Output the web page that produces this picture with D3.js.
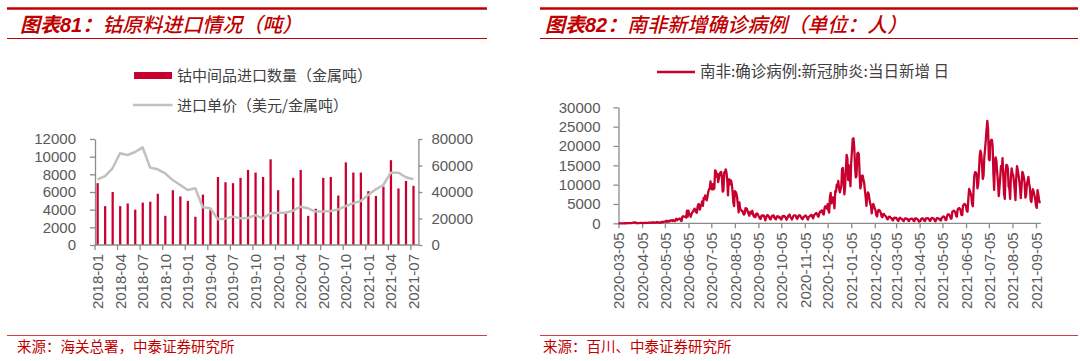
<!DOCTYPE html>
<html><head><meta charset="utf-8">
<script src="https://cdn.jsdelivr.net/npm/d3@7"></script>
<style>
body{margin:0;background:#fff;}
svg{display:block;font-family:"Liberation Sans",Arial,"Noto Sans CJK SC",sans-serif;}
</style></head><body>
<svg id="c" width="1080" height="361"></svg>
<script>
// ---------- Left chart data ----------
const importMonths = ["2018-01","2018-02","2018-03","2018-04","2018-05","2018-06","2018-07","2018-08","2018-09","2018-10","2018-11","2018-12",
 "2019-01","2019-02","2019-03","2019-04","2019-05","2019-06","2019-07","2019-08","2019-09","2019-10","2019-11","2019-12",
 "2020-01","2020-02","2020-03","2020-04","2020-05","2020-06","2020-07","2020-08","2020-09","2020-10","2020-11","2020-12",
 "2021-01","2021-02","2021-03","2021-04","2021-05","2021-06","2021-07"];
const importVolume = [7000,4400,6000,4400,4700,4000,4800,4900,5800,3300,6200,5500,
 5000,3200,5700,4000,7700,7100,7000,7600,8500,8200,7700,9700,
 6200,3600,7600,8500,3300,4100,7600,7700,5600,9350,8200,8200,
 6100,5550,6600,9600,6400,7250,6700];
const importPrice = [49600,52000,57900,69200,67900,70200,73700,58400,57100,54100,49000,45300,
 41500,42800,28500,27700,19400,19900,21400,20100,20400,22600,20100,23900,
 24400,24400,25900,28900,27700,25200,25200,25700,26900,29400,31400,33200,
 37700,42000,45300,54600,54600,51100,49600];
const leftTickLabels = ["2018-01","2018-04","2018-07","2018-10","2019-01","2019-04","2019-07","2019-10",
 "2020-01","2020-04","2020-07","2020-10","2021-01","2021-04","2021-07"];
const volumeTicks = [0,2000,4000,6000,8000,10000,12000];
const priceTicks = [0,20000,40000,60000,80000];
const leftLegend = ["钴中间品进口数量（金属吨）","进口单价（美元/金属吨）"];

// ---------- Right chart data (daily new cases from 2020-03-05) ----------
const caseStart = "2020-03-05";
const casesMar20 = [1,0,1,0,4,1,6,4,7,13,13,11,23,31,34,52,38,66,128,152,155,218,243,17,93,46,27];
const casesApr20 = [27,82,123,77,123,63,48,99,139,73,84,94,145,143,196,178,99,251,174,251,142,163,163,318,196,287,197,160,136,354];
const casesMay20 = [250,385,304,437,424,420,663,383,595,554,462,698,818,665,591,867,650,581,767,1160,803,988,1146,1094,1218,663,641,1673,1837,1716,1727];
const casesJun20 = [1716,1455,3267,1713,3267,2423,2312,1674,2430,2750,3147,3359,3809,3369,2834,2727,4302,4884,4966,3515,4408,4621,5688,4518,6579,6215,7210,6334,5930,6945];
const casesJul20 = [8124,8728,9063,10853,8971,8773,10134,8810,9065,13674,13497,12058,12757,10661,11554,12757,13172,13285,12058,8170,8510,13150,13104,13944,13104,11125,7232,11362,11343,10107,11046];
const casesAug20 = [10107,8195,5377,4456,8307,8147,7712,6670,4804,2810,5385,3692,3483,3195,3207,2541,2258,2555,3916,3880,3707,2920,2432,1961,2937,2969,2528,3239,2195,1777,2119];
const casesSep20 = [1567,2420,2563,2420,1981,1584,1218,1137,1980,2015,1923,2017,1586,772,1373,1923,2128,1981,1649,1119,1011,1587,1960,1826,2055,1376,1165,1023,1725,1828];
const casesOct20 = [1767,1501,1626,1243,953,1385,1920,1745,1917,1671,1376,905,1296,1847,2050,2268,1645,1434,963,1401,1920,2062,2036,1979,1400,1128,1571,2049,2076,1992,1545];
const casesNov20 = [1258,1047,1590,1713,1939,2010,1752,1416,960,1588,1762,1978,2083,2163,1599,1271,2048,2270,2470,2680,2406,1924,1712,2516,3021,2936,3309,3283,2411,2296];
const casesDec20 = [4011,4420,4174,3825,4932,3399,2773,6709,7882,5163,6359,6709,5692,3877,8319,8166,10008,9445,10939,9126,7999,8789,9501,14046,14305,11552,7458,9502,14046,17710,16762];
const casesJan21 = [11180,15002,12601,9580,15776,18669,21832,21980,19680,15046,11859,12267,18000,18257,17891,13147,9014,10000,12267,12387,11381,10525,8550,6802,4525,6991,8004,7624,6137,5130,4525];
const casesFeb21 = [2548,4525,5000,4508,3760,3345,2158,1742,2995,3455,3393,3124,2681,1742,1568,2384,2422,2063,1924,1643,1212,1013,1526,1722,1649,1418,1302,937];
const casesMar21 = [736,1270,1473,1338,1434,1240,808,590,1156,1447,1276,1187,1046,705,585,1044,1290,1283,1113,1148,759,572,1013,1166,1175,1221,1054,629,578,1255,1261];
const casesApr21 = [1208,1040,891,459,517,585,1126,1261,1281,1069,700,581,1236,1238,1256,1344,1095,703,631,1158,1390,1330,1262,1087,673,540,1116,1367,1303,1171];
const casesMay21 = [1149,813,732,1383,1541,1759,1738,1496,914,825,1769,2286,2323,2208,1852,1195,1264,3005,3113,3273,3068,2785,1869,1718,3583,3809,3948,3772,3188,2169,2137];
const casesJun21 = [4515,4843,5012,4891,4361,3193,2998,6195,8881,8436,7785,6963,4943,4406,9150,12476,13246,13155,12523,9027,10023,13478,17493,18762,18000,15036,11456,12225,17018,19043];
const casesJul21 = [21584,24270,26485,24270,16585,16302,20955,21555,21584,20017,12748,8622,16366,17032,16032,13000,10623,7037,9317,11993,14858,13875,16858,12183,7536,6300,13026,15100,15007,14100,9556];
const casesAug21 = [8944,6300,12000,14200,13000,12417,10851,8646,5979,11788,14800,13751,12453,11035,9110,6500,9500,13300,12920,11880,10580,6630,7300,10000,11000,12000,10300,9200,6000,5500,8000];
const casesSep21 = [8800,8100,7200,6200,4500,4000,8600,7500,6100,5200];
const caseTickLabels = ["2020-03-05","2020-04-05","2020-05-05","2020-06-05","2020-07-05","2020-08-05","2020-09-05",
 "2020-10-05","2020-11-05","2020-12-05","2021-01-05","2021-02-05","2021-03-05","2021-04-05","2021-05-05",
 "2021-06-05","2021-07-05","2021-08-05","2021-09-05"];
const caseYTicks = [0,5000,10000,15000,20000,25000,30000];
const rightLegend = "南非:确诊病例:新冠肺炎:当日新增 日";

// ---------- styles ----------
const RED = "#c00000", BAR = "#c8002f", GRAY_LINE = "#c0c0c0", AXIS = "#8c8c8c", TXT = "#595959";
const CJK = "'Noto Sans CJK SC', sans-serif";

const svg = d3.select("#c");

// ---------- frames / titles / footers ----------
function frame(x0, x1, num, rest, src) {
  svg.append("line").attr("x1",x0).attr("x2",x1).attr("y1",8.5).attr("y2",8.5).attr("stroke",RED).attr("stroke-width",2.5);
  svg.append("line").attr("x1",x0).attr("x2",x1).attr("y1",38.5).attr("y2",38.5).attr("stroke",RED).attr("stroke-width",1);
  svg.append("line").attr("x1",x0).attr("x2",x1).attr("y1",335.5).attr("y2",335.5).attr("stroke","#d04040").attr("stroke-width",1);
  const t = svg.append("text").attr("x", x0 + (x0 < 100 ? 13 : 5)).attr("y",32).attr("fill",RED)
    .style("font-size","20px").style("font-style","italic");
  t.append("tspan").style("font-family",CJK).style("font-weight","bold").text("图表");
  t.append("tspan").style("font-family","'Liberation Sans',Arial").style("font-weight","bold").text(num);
  t.append("tspan").style("font-family",CJK).style("font-weight","bold").text("：");
  t.append("tspan").style("font-family",CJK).style("font-weight","500").text(rest);
  svg.append("text").attr("x", x0 + (x0 < 100 ? 10 : 3)).attr("y",351.5).attr("fill",RED)
    .style("font-family",CJK).style("font-size","14.5px").text(src);
}
frame(7, 487, "81", "钴原料进口情况（吨）", "来源：海关总署，中泰证券研究所");
frame(540, 1078, "82", "南非新增确诊病例（单位：人）", "来源：百川、中泰证券研究所");

// ---------- Left chart ----------
const L = {left:95, right:418.4, top:139, bottom:245};
const xb = d3.scaleBand().domain(importMonths).range([L.left, L.right]).padding(0);
const bw = xb.bandwidth();
const yv = d3.scaleLinear().domain([0,12000]).range([L.bottom, L.top]);
const yp = d3.scaleLinear().domain([0,80000]).range([L.bottom, L.top]);

const gL = svg.append("g");
gL.selectAll("rect.bar").data(importMonths).join("rect")
  .attr("x", d => xb(d) + bw*0.2).attr("width", bw*0.3)
  .attr("y", (d,i) => yv(importVolume[i])).attr("height", (d,i) => L.bottom - yv(importVolume[i]))
  .attr("fill", BAR);

gL.append("path").datum(importPrice)
  .attr("d", d3.line().x((d,i) => xb(importMonths[i]) + bw*0.33).y(d => yp(d)))
  .attr("fill","none").attr("stroke",GRAY_LINE).attr("stroke-width",2.5).attr("stroke-linejoin","round");

function styleAxis(g) {
  g.select(".domain").attr("stroke",AXIS).attr("stroke-width",1.3);
  g.selectAll(".tick line").attr("stroke",AXIS).attr("stroke-width",1.3);
  g.selectAll("text").attr("fill",TXT).style("font-family","'Liberation Sans',Arial").style("font-size","15px");
}
const axL = gL.append("g").attr("transform",`translate(${L.left},0)`)
  .call(d3.axisLeft(yv).tickValues(volumeTicks).tickSize(5).tickPadding(14).tickSizeOuter(0).tickFormat(d3.format("d")));
styleAxis(axL);
const axR = gL.append("g").attr("transform",`translate(${L.right},0)`)
  .call(d3.axisRight(yp).tickValues(priceTicks).tickSize(4).tickPadding(9).tickSizeOuter(0).tickFormat(d3.format("d")));
styleAxis(axR);
const axB = gL.append("g").attr("transform",`translate(0,${L.bottom})`)
  .call(d3.axisBottom(xb).tickValues(leftTickLabels).tickSize(5).tickSizeOuter(0));
styleAxis(axB);
axB.select(".domain").attr("d", `M${L.left},0H${L.right}`);
axB.selectAll(".tick line").attr("x1", -bw/2).attr("x2", -bw/2);
axB.selectAll(".tick text").attr("transform","rotate(-90)").attr("x",-9).attr("y",-1).attr("dy","0.35em").style("text-anchor","end");

// left legend
const lg = svg.append("g");
lg.append("rect").attr("x",134).attr("y",72).attr("width",38).attr("height",7).attr("fill",BAR);
lg.append("line").attr("x1",133).attr("x2",172.5).attr("y1",105).attr("y2",105).attr("stroke",GRAY_LINE).attr("stroke-width",2.5);
lg.selectAll("text").data(leftLegend).join("text")
  .attr("x",177).attr("y",(d,i) => i ? 106 : 76).attr("dy","0.35em")
  .attr("fill","#404040").style("font-family",CJK).style("font-size","15px").text(d => d);

// ---------- Right chart ----------
const allCases = [].concat(casesMar20,casesApr20,casesMay20,casesJun20,casesJul20,casesAug20,casesSep20,casesOct20,casesNov20,casesDec20,
  casesJan21,casesFeb21,casesMar21,casesApr21,casesMay21,casesJun21,casesJul21,casesAug21,casesSep21);
const parse = d3.utcParse("%Y-%m-%d");
const t0 = parse(caseStart);
const series = allCases.map((v,i) => ({date: d3.utcDay.offset(t0, i), v}));
const R = {left:618.5, top:107.3, bottom:223.3};
const tickDates = caseTickLabels.map(parse);
const xt = d3.scaleUtc().domain([t0, tickDates[tickDates.length-1]]).range([R.left, 1036]);
const yc = d3.scaleLinear().domain([0,30000]).range([R.bottom, R.top]);

const gR = svg.append("g");
const axRy = gR.append("g").attr("transform",`translate(${R.left},0)`)
  .call(d3.axisLeft(yc).tickValues(caseYTicks).tickSize(5).tickPadding(13).tickSizeOuter(0).tickFormat(d3.format("d")));
styleAxis(axRy);
const axRx = gR.append("g").attr("transform",`translate(0,${R.bottom})`)
  .call(d3.axisBottom(xt).tickValues(tickDates).tickSize(5).tickSizeOuter(0).tickFormat(d3.utcFormat("%Y-%m-%d")));
styleAxis(axRx);
axRx.select(".domain").attr("d", `M${R.left},0H${xt(series[series.length-1].date)+1}`);
axRx.selectAll(".tick text").attr("transform","rotate(-90)").attr("x",-9).attr("y",0).attr("dy","0.35em").style("text-anchor","end");

gR.append("path").datum(series)
  .attr("d", d3.line().x(d => xt(d.date)).y(d => yc(d.v)))
  .attr("fill","none").attr("stroke",BAR).attr("stroke-width",2.3).attr("stroke-linejoin","round");

// right legend
svg.append("line").attr("x1",657).attr("x2",695).attr("y1",72).attr("y2",72).attr("stroke",BAR).attr("stroke-width",2.3);
svg.append("text").attr("x",700).attr("y",72).attr("dy","0.35em").attr("fill","#404040")
  .style("font-family",CJK).style("font-size","15.5px").text(rightLegend);
</script>
</body></html>
